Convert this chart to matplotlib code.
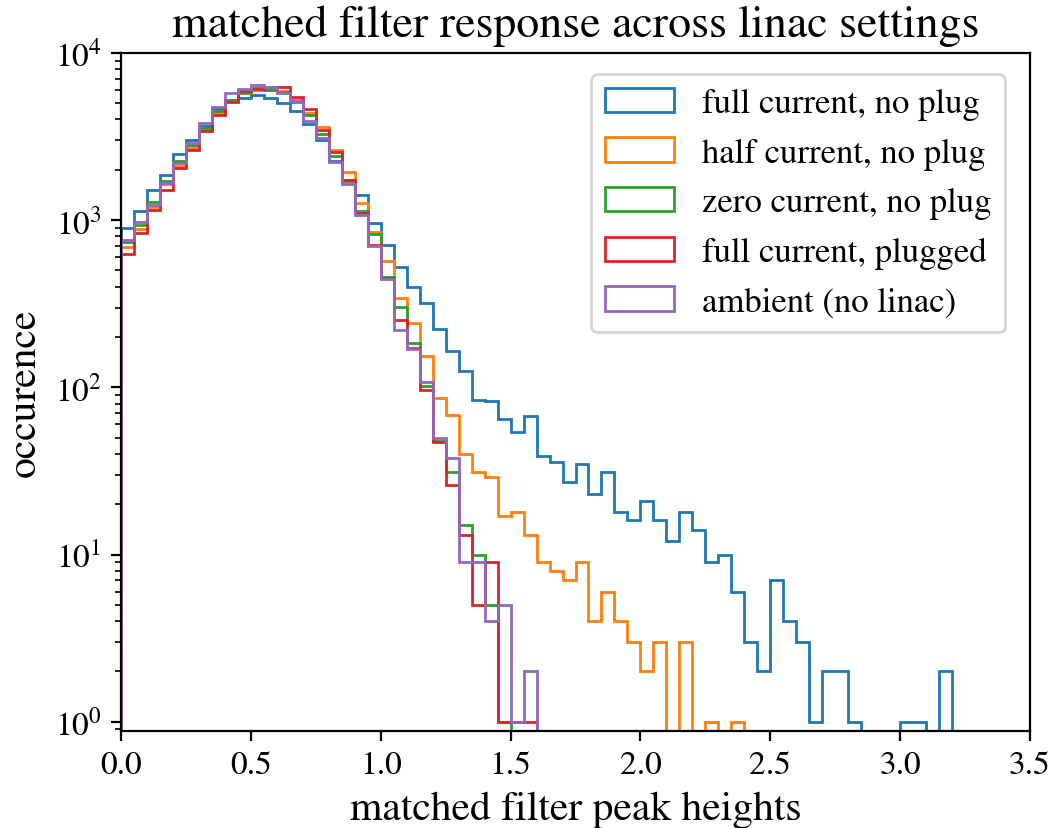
import numpy as np
import matplotlib
matplotlib.use("Agg")
from matplotlib import pyplot as plt

plt.rcParams['font.family'] = 'STIXGeneral'
plt.rcParams['mathtext.fontset'] = 'stix'

# bin edges: 0 .. 3.5 in steps of 0.05
BIN_WIDTH = 0.05
N_BINS = 70

LABELS = [
    "full current, no plug",
    "half current, no plug",
    "zero current, no plug",
    "full current, plugged",
    "ambient (no linac)",
]

# counts per bin (bins not listed are empty)
full_no_plug = [
    896, 1138, 1507, 1865, 2485, 3000, 3680, 4597, 5250, 5375,
    5580, 5400, 5012, 4518, 3749, 3027, 2250, 1750, 1411, 966,
    712, 528, 401, 321, 224, 165, 126, 84, 83, 65,
    54, 67, 39, 36, 27, 35, 23, 31, 18, 16,
    21, 16, 12, 18, 14, 9, 10, 6, 3, 2,
    7, 4, 3, 1, 2, 2, 1, 0, 0, 0,
    1, 1, 0, 2,
]
half_no_plug = [
    695, 890, 1200, 1650, 2115, 2700, 3480, 4385, 5150, 5950,
    5970, 5970, 5900, 5290, 4400, 3587, 2622, 1928, 1260, 847,
    568, 341, 242, 153, 86, 68, 40, 31, 29, 17,
    18, 13, 9, 8, 7, 9, 4, 6, 4, 3,
    2, 3, 0, 3, 0, 1, 0, 1,
]
zero_no_plug = [
    740, 938, 1282, 1718, 2244, 2800, 3556, 4520, 5253, 5800,
    6170, 6000, 5850, 5103, 4270, 3289, 2404, 1720, 1135, 824,
    460, 303, 185, 102, 48, 31, 15, 10, 5, 1,
]
full_plugged = [
    631, 843, 1153, 1524, 2048, 2636, 3397, 4272, 5085, 5894,
    6100, 6280, 6280, 5420, 4613, 3475, 2553, 1746, 1110, 712,
    450, 252, 172, 96, 47, 26, 13, 5, 9, 1,
    1, 1,
]
ambient = [
    759, 973, 1236, 1679, 2183, 2890, 3810, 4767, 5737, 6121,
    6401, 6250, 5754, 5130, 3894, 3097, 2222, 1651, 1076, 702,
    443, 220, 169, 107, 50, 38, 9, 9, 4, 5,
    1, 2,
]


def pad(counts):
    out = np.zeros(N_BINS)
    out[:len(counts)] = counts
    return out


edges = np.arange(N_BINS + 1) * BIN_WIDTH
centers = edges[:-1] + BIN_WIDTH / 2
data = [full_no_plug, half_no_plug, zero_no_plug, full_plugged, ambient]

fig = plt.figure(figsize=(10.55 / 2, 8.29 / 2), dpi=200)
fig.subplots_adjust(left=0.1147, right=0.9763, top=0.9349, bottom=0.117)
ax = fig.add_subplot(111)

for counts, label in zip(data, LABELS):
    ax.hist(centers, bins=edges, weights=pad(counts), histtype='step',
            log=True, label=label)

ax.set_xlim(0, 3.5)
ax.set_ylim(0.88, 1e4)
ax.set_title("matched filter response across linac settings", fontsize=16.5)
ax.set_xlabel("matched filter peak heights", fontsize=15)
ax.set_ylabel("occurence", fontsize=15)
ax.tick_params(labelsize=12)
ax.legend(loc='upper right', fontsize=12.5, bbox_to_anchor=(0.992, 0.995))

fig.savefig("out.png", dpi=200)
